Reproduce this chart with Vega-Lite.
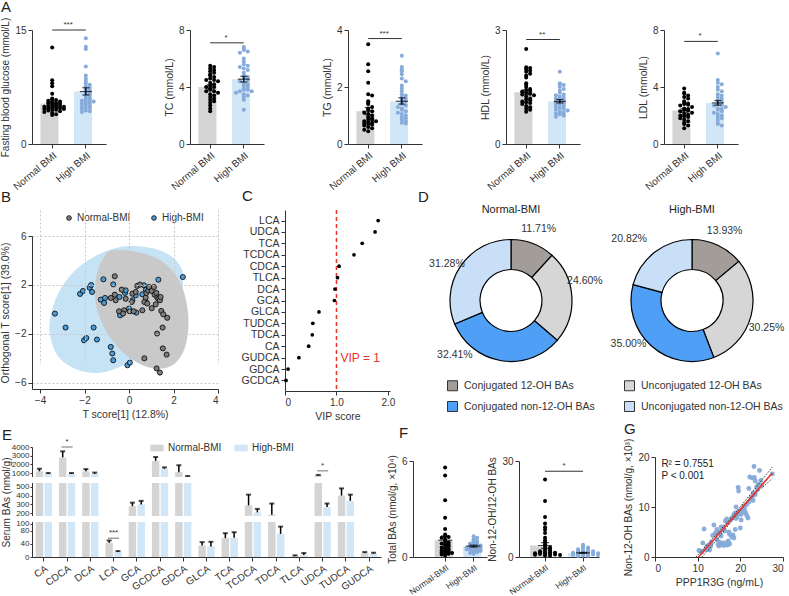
{
"$schema":"https://vega.github.io/schema/vega-lite/v6.json",
"background":"white",
"padding":{"left":0,"top":0,"right":2,"bottom":2},
"config":{"font":"Liberation Sans","view":{"stroke":null},
 "axis":{"domainColor":"#333","tickColor":"#333","labelColor":"#333","titleColor":"#333","labelFontSize":10,"titleFontSize":10.5,"titleFontWeight":"normal","grid":false,"tickSize":4,"labelOverlap":false,"labelFont":"Liberation Sans","titleFont":"Liberation Sans"},
 "title":{"font":"Liberation Sans","fontWeight":"normal","fontSize":11,"color":"#222"},
 "legend":{"labelFont":"Liberation Sans","labelColor":"#333"},
 "text":{"font":"Liberation Sans"}},
"datasets":{
"asum":[
{"p":"FBG","g":"Normal BMI","m":5.3,"lo":5.0,"hi":5.65},{"p":"FBG","g":"High BMI","m":6.9,"lo":6.45,"hi":7.4},
{"p":"TC","g":"Normal BMI","m":4.0,"lo":3.85,"hi":4.15},{"p":"TC","g":"High BMI","m":4.55,"lo":4.35,"hi":4.75},
{"p":"TG","g":"Normal BMI","m":1.15,"lo":1.03,"hi":1.28},{"p":"TG","g":"High BMI","m":1.5,"lo":1.4,"hi":1.62},
{"p":"HDL","g":"Normal BMI","m":1.36,"lo":1.3,"hi":1.42},{"p":"HDL","g":"High BMI","m":1.12,"lo":1.08,"hi":1.17},
{"p":"LDL","g":"Normal BMI","m":2.35,"lo":2.22,"hi":2.48},{"p":"LDL","g":"High BMI","m":2.88,"lo":2.72,"hi":3.05}],
"abr":[{"p":"FBG","y":15,"s":"***"},{"p":"TC","y":7.1,"s":"*"},{"p":"TG","y":3.7,"s":"***"},{"p":"HDL","y":2.75,"s":"**"},{"p":"LDL","y":7.2,"s":"*"}],
"apts":[
{"p":"FBG","g":"Normal BMI","v":12.7},{"p":"FBG","g":"Normal BMI","v":8.4},{"p":"FBG","g":"Normal BMI","v":8.0},{"p":"FBG","g":"Normal BMI","v":7.6},{"p":"FBG","g":"Normal BMI","v":6.6},{"p":"FBG","g":"Normal BMI","v":6.0},{"p":"FBG","g":"Normal BMI","v":5.9},{"p":"FBG","g":"Normal BMI","v":5.8},{"p":"FBG","g":"Normal BMI","v":5.7},{"p":"FBG","g":"Normal BMI","v":5.6},{"p":"FBG","g":"Normal BMI","v":5.5},{"p":"FBG","g":"Normal BMI","v":5.4},{"p":"FBG","g":"Normal BMI","v":5.4},{"p":"FBG","g":"Normal BMI","v":5.3},{"p":"FBG","g":"Normal BMI","v":5.2},{"p":"FBG","g":"Normal BMI","v":5.1},{"p":"FBG","g":"Normal BMI","v":5.0},{"p":"FBG","g":"Normal BMI","v":5.0},{"p":"FBG","g":"Normal BMI","v":4.9},{"p":"FBG","g":"Normal BMI","v":4.9},{"p":"FBG","g":"Normal BMI","v":4.8},{"p":"FBG","g":"Normal BMI","v":4.8},{"p":"FBG","g":"Normal BMI","v":4.7},{"p":"FBG","g":"Normal BMI","v":4.7},{"p":"FBG","g":"Normal BMI","v":4.6},{"p":"FBG","g":"Normal BMI","v":4.6},{"p":"FBG","g":"Normal BMI","v":4.5},{"p":"FBG","g":"Normal BMI","v":4.5},{"p":"FBG","g":"Normal BMI","v":4.4},{"p":"FBG","g":"Normal BMI","v":4.3},{"p":"FBG","g":"Normal BMI","v":4.2},{"p":"FBG","g":"Normal BMI","v":4.1},{"p":"FBG","g":"Normal BMI","v":3.9},{"p":"FBG","g":"Normal BMI","v":3.8},
{"p":"FBG","g":"High BMI","v":13.9},{"p":"FBG","g":"High BMI","v":12.8},{"p":"FBG","g":"High BMI","v":12.5},{"p":"FBG","g":"High BMI","v":10.2},{"p":"FBG","g":"High BMI","v":9.0},{"p":"FBG","g":"High BMI","v":8.6},{"p":"FBG","g":"High BMI","v":8.3},{"p":"FBG","g":"High BMI","v":8.0},{"p":"FBG","g":"High BMI","v":7.8},{"p":"FBG","g":"High BMI","v":7.6},{"p":"FBG","g":"High BMI","v":7.4},{"p":"FBG","g":"High BMI","v":7.2},{"p":"FBG","g":"High BMI","v":7.0},{"p":"FBG","g":"High BMI","v":6.9},{"p":"FBG","g":"High BMI","v":6.7},{"p":"FBG","g":"High BMI","v":6.5},{"p":"FBG","g":"High BMI","v":6.4},{"p":"FBG","g":"High BMI","v":6.2},{"p":"FBG","g":"High BMI","v":6.0},{"p":"FBG","g":"High BMI","v":5.9},{"p":"FBG","g":"High BMI","v":5.8},{"p":"FBG","g":"High BMI","v":5.7},{"p":"FBG","g":"High BMI","v":5.6},{"p":"FBG","g":"High BMI","v":5.5},{"p":"FBG","g":"High BMI","v":5.4},{"p":"FBG","g":"High BMI","v":5.3},{"p":"FBG","g":"High BMI","v":5.2},{"p":"FBG","g":"High BMI","v":5.0},{"p":"FBG","g":"High BMI","v":4.9},{"p":"FBG","g":"High BMI","v":4.8},{"p":"FBG","g":"High BMI","v":4.7},{"p":"FBG","g":"High BMI","v":4.6},{"p":"FBG","g":"High BMI","v":4.4},{"p":"FBG","g":"High BMI","v":4.3},{"p":"FBG","g":"High BMI","v":4.2},
{"p":"TC","g":"Normal BMI","v":5.5},{"p":"TC","g":"Normal BMI","v":5.4},{"p":"TC","g":"Normal BMI","v":5.3},{"p":"TC","g":"Normal BMI","v":5.2},{"p":"TC","g":"Normal BMI","v":5.1},{"p":"TC","g":"Normal BMI","v":5.0},{"p":"TC","g":"Normal BMI","v":4.9},{"p":"TC","g":"Normal BMI","v":4.8},{"p":"TC","g":"Normal BMI","v":4.7},{"p":"TC","g":"Normal BMI","v":4.6},{"p":"TC","g":"Normal BMI","v":4.5},{"p":"TC","g":"Normal BMI","v":4.5},{"p":"TC","g":"Normal BMI","v":4.4},{"p":"TC","g":"Normal BMI","v":4.3},{"p":"TC","g":"Normal BMI","v":4.2},{"p":"TC","g":"Normal BMI","v":4.1},{"p":"TC","g":"Normal BMI","v":4.0},{"p":"TC","g":"Normal BMI","v":4.0},{"p":"TC","g":"Normal BMI","v":3.9},{"p":"TC","g":"Normal BMI","v":3.8},{"p":"TC","g":"Normal BMI","v":3.7},{"p":"TC","g":"Normal BMI","v":3.7},{"p":"TC","g":"Normal BMI","v":3.6},{"p":"TC","g":"Normal BMI","v":3.5},{"p":"TC","g":"Normal BMI","v":3.4},{"p":"TC","g":"Normal BMI","v":3.3},{"p":"TC","g":"Normal BMI","v":3.2},{"p":"TC","g":"Normal BMI","v":3.1},{"p":"TC","g":"Normal BMI","v":3.0},{"p":"TC","g":"Normal BMI","v":2.9},{"p":"TC","g":"Normal BMI","v":2.7},{"p":"TC","g":"Normal BMI","v":2.5},{"p":"TC","g":"Normal BMI","v":2.3},
{"p":"TC","g":"High BMI","v":6.8},{"p":"TC","g":"High BMI","v":6.7},{"p":"TC","g":"High BMI","v":6.6},{"p":"TC","g":"High BMI","v":6.5},{"p":"TC","g":"High BMI","v":6.4},{"p":"TC","g":"High BMI","v":6.0},{"p":"TC","g":"High BMI","v":5.8},{"p":"TC","g":"High BMI","v":5.6},{"p":"TC","g":"High BMI","v":5.5},{"p":"TC","g":"High BMI","v":5.4},{"p":"TC","g":"High BMI","v":5.3},{"p":"TC","g":"High BMI","v":5.2},{"p":"TC","g":"High BMI","v":5.0},{"p":"TC","g":"High BMI","v":4.8},{"p":"TC","g":"High BMI","v":4.7},{"p":"TC","g":"High BMI","v":4.6},{"p":"TC","g":"High BMI","v":4.5},{"p":"TC","g":"High BMI","v":4.4},{"p":"TC","g":"High BMI","v":4.3},{"p":"TC","g":"High BMI","v":4.2},{"p":"TC","g":"High BMI","v":4.1},{"p":"TC","g":"High BMI","v":4.0},{"p":"TC","g":"High BMI","v":3.9},{"p":"TC","g":"High BMI","v":3.8},{"p":"TC","g":"High BMI","v":3.8},{"p":"TC","g":"High BMI","v":3.7},{"p":"TC","g":"High BMI","v":3.7},{"p":"TC","g":"High BMI","v":3.6},{"p":"TC","g":"High BMI","v":3.5},{"p":"TC","g":"High BMI","v":3.4},{"p":"TC","g":"High BMI","v":3.3},{"p":"TC","g":"High BMI","v":3.1},{"p":"TC","g":"High BMI","v":2.4},
{"p":"TG","g":"Normal BMI","v":3.5},{"p":"TG","g":"Normal BMI","v":2.8},{"p":"TG","g":"Normal BMI","v":2.55},{"p":"TG","g":"Normal BMI","v":2.15},{"p":"TG","g":"Normal BMI","v":1.75},{"p":"TG","g":"Normal BMI","v":1.7},{"p":"TG","g":"Normal BMI","v":1.5},{"p":"TG","g":"Normal BMI","v":1.45},{"p":"TG","g":"Normal BMI","v":1.4},{"p":"TG","g":"Normal BMI","v":1.3},{"p":"TG","g":"Normal BMI","v":1.25},{"p":"TG","g":"Normal BMI","v":1.2},{"p":"TG","g":"Normal BMI","v":1.15},{"p":"TG","g":"Normal BMI","v":1.1},{"p":"TG","g":"Normal BMI","v":1.05},{"p":"TG","g":"Normal BMI","v":1.0},{"p":"TG","g":"Normal BMI","v":0.95},{"p":"TG","g":"Normal BMI","v":0.9},{"p":"TG","g":"Normal BMI","v":0.88},{"p":"TG","g":"Normal BMI","v":0.85},{"p":"TG","g":"Normal BMI","v":0.8},{"p":"TG","g":"Normal BMI","v":0.8},{"p":"TG","g":"Normal BMI","v":0.78},{"p":"TG","g":"Normal BMI","v":0.75},{"p":"TG","g":"Normal BMI","v":0.72},{"p":"TG","g":"Normal BMI","v":0.7},{"p":"TG","g":"Normal BMI","v":0.68},{"p":"TG","g":"Normal BMI","v":0.65},{"p":"TG","g":"Normal BMI","v":0.6},{"p":"TG","g":"Normal BMI","v":0.55},{"p":"TG","g":"Normal BMI","v":0.5},{"p":"TG","g":"Normal BMI","v":0.45},
{"p":"TG","g":"High BMI","v":3.1},{"p":"TG","g":"High BMI","v":2.7},{"p":"TG","g":"High BMI","v":2.62},{"p":"TG","g":"High BMI","v":2.55},{"p":"TG","g":"High BMI","v":2.45},{"p":"TG","g":"High BMI","v":2.3},{"p":"TG","g":"High BMI","v":2.2},{"p":"TG","g":"High BMI","v":2.05},{"p":"TG","g":"High BMI","v":1.95},{"p":"TG","g":"High BMI","v":1.85},{"p":"TG","g":"High BMI","v":1.75},{"p":"TG","g":"High BMI","v":1.7},{"p":"TG","g":"High BMI","v":1.65},{"p":"TG","g":"High BMI","v":1.6},{"p":"TG","g":"High BMI","v":1.55},{"p":"TG","g":"High BMI","v":1.5},{"p":"TG","g":"High BMI","v":1.45},{"p":"TG","g":"High BMI","v":1.4},{"p":"TG","g":"High BMI","v":1.35},{"p":"TG","g":"High BMI","v":1.3},{"p":"TG","g":"High BMI","v":1.25},{"p":"TG","g":"High BMI","v":1.2},{"p":"TG","g":"High BMI","v":1.15},{"p":"TG","g":"High BMI","v":1.1},{"p":"TG","g":"High BMI","v":1.05},{"p":"TG","g":"High BMI","v":1.0},{"p":"TG","g":"High BMI","v":0.95},{"p":"TG","g":"High BMI","v":0.9},{"p":"TG","g":"High BMI","v":0.85},{"p":"TG","g":"High BMI","v":0.8},{"p":"TG","g":"High BMI","v":0.75},{"p":"TG","g":"High BMI","v":0.72},
{"p":"HDL","g":"Normal BMI","v":2.5},{"p":"HDL","g":"Normal BMI","v":2.02},{"p":"HDL","g":"Normal BMI","v":2.0},{"p":"HDL","g":"Normal BMI","v":1.97},{"p":"HDL","g":"Normal BMI","v":1.93},{"p":"HDL","g":"Normal BMI","v":1.9},{"p":"HDL","g":"Normal BMI","v":1.85},{"p":"HDL","g":"Normal BMI","v":1.8},{"p":"HDL","g":"Normal BMI","v":1.75},{"p":"HDL","g":"Normal BMI","v":1.6},{"p":"HDL","g":"Normal BMI","v":1.55},{"p":"HDL","g":"Normal BMI","v":1.5},{"p":"HDL","g":"Normal BMI","v":1.45},{"p":"HDL","g":"Normal BMI","v":1.42},{"p":"HDL","g":"Normal BMI","v":1.4},{"p":"HDL","g":"Normal BMI","v":1.38},{"p":"HDL","g":"Normal BMI","v":1.35},{"p":"HDL","g":"Normal BMI","v":1.32},{"p":"HDL","g":"Normal BMI","v":1.3},{"p":"HDL","g":"Normal BMI","v":1.28},{"p":"HDL","g":"Normal BMI","v":1.25},{"p":"HDL","g":"Normal BMI","v":1.2},{"p":"HDL","g":"Normal BMI","v":1.18},{"p":"HDL","g":"Normal BMI","v":1.15},{"p":"HDL","g":"Normal BMI","v":1.12},{"p":"HDL","g":"Normal BMI","v":1.1},{"p":"HDL","g":"Normal BMI","v":1.08},{"p":"HDL","g":"Normal BMI","v":1.05},{"p":"HDL","g":"Normal BMI","v":1.0},{"p":"HDL","g":"Normal BMI","v":0.97},{"p":"HDL","g":"Normal BMI","v":0.93},{"p":"HDL","g":"Normal BMI","v":0.9},{"p":"HDL","g":"Normal BMI","v":0.85},
{"p":"HDL","g":"High BMI","v":1.9},{"p":"HDL","g":"High BMI","v":1.6},{"p":"HDL","g":"High BMI","v":1.57},{"p":"HDL","g":"High BMI","v":1.55},{"p":"HDL","g":"High BMI","v":1.5},{"p":"HDL","g":"High BMI","v":1.45},{"p":"HDL","g":"High BMI","v":1.4},{"p":"HDL","g":"High BMI","v":1.35},{"p":"HDL","g":"High BMI","v":1.3},{"p":"HDL","g":"High BMI","v":1.28},{"p":"HDL","g":"High BMI","v":1.25},{"p":"HDL","g":"High BMI","v":1.22},{"p":"HDL","g":"High BMI","v":1.2},{"p":"HDL","g":"High BMI","v":1.18},{"p":"HDL","g":"High BMI","v":1.15},{"p":"HDL","g":"High BMI","v":1.12},{"p":"HDL","g":"High BMI","v":1.1},{"p":"HDL","g":"High BMI","v":1.08},{"p":"HDL","g":"High BMI","v":1.05},{"p":"HDL","g":"High BMI","v":1.03},{"p":"HDL","g":"High BMI","v":1.0},{"p":"HDL","g":"High BMI","v":0.98},{"p":"HDL","g":"High BMI","v":0.95},{"p":"HDL","g":"High BMI","v":0.93},{"p":"HDL","g":"High BMI","v":0.9},{"p":"HDL","g":"High BMI","v":0.88},{"p":"HDL","g":"High BMI","v":0.85},{"p":"HDL","g":"High BMI","v":0.82},{"p":"HDL","g":"High BMI","v":0.8},{"p":"HDL","g":"High BMI","v":0.78},{"p":"HDL","g":"High BMI","v":0.75},{"p":"HDL","g":"High BMI","v":0.72},
{"p":"LDL","g":"Normal BMI","v":3.9},{"p":"LDL","g":"Normal BMI","v":3.6},{"p":"LDL","g":"Normal BMI","v":3.55},{"p":"LDL","g":"Normal BMI","v":3.4},{"p":"LDL","g":"Normal BMI","v":3.3},{"p":"LDL","g":"Normal BMI","v":3.2},{"p":"LDL","g":"Normal BMI","v":3.0},{"p":"LDL","g":"Normal BMI","v":2.9},{"p":"LDL","g":"Normal BMI","v":2.85},{"p":"LDL","g":"Normal BMI","v":2.8},{"p":"LDL","g":"Normal BMI","v":2.75},{"p":"LDL","g":"Normal BMI","v":2.7},{"p":"LDL","g":"Normal BMI","v":2.6},{"p":"LDL","g":"Normal BMI","v":2.5},{"p":"LDL","g":"Normal BMI","v":2.45},{"p":"LDL","g":"Normal BMI","v":2.4},{"p":"LDL","g":"Normal BMI","v":2.35},{"p":"LDL","g":"Normal BMI","v":2.3},{"p":"LDL","g":"Normal BMI","v":2.2},{"p":"LDL","g":"Normal BMI","v":2.1},{"p":"LDL","g":"Normal BMI","v":2.05},{"p":"LDL","g":"Normal BMI","v":2.0},{"p":"LDL","g":"Normal BMI","v":1.95},{"p":"LDL","g":"Normal BMI","v":1.9},{"p":"LDL","g":"Normal BMI","v":1.8},{"p":"LDL","g":"Normal BMI","v":1.7},{"p":"LDL","g":"Normal BMI","v":1.6},{"p":"LDL","g":"Normal BMI","v":1.5},{"p":"LDL","g":"Normal BMI","v":1.4},{"p":"LDL","g":"Normal BMI","v":1.3},{"p":"LDL","g":"Normal BMI","v":1.1},
{"p":"LDL","g":"High BMI","v":6.35},{"p":"LDL","g":"High BMI","v":4.5},{"p":"LDL","g":"High BMI","v":4.3},{"p":"LDL","g":"High BMI","v":4.2},{"p":"LDL","g":"High BMI","v":4.0},{"p":"LDL","g":"High BMI","v":3.8},{"p":"LDL","g":"High BMI","v":3.7},{"p":"LDL","g":"High BMI","v":3.5},{"p":"LDL","g":"High BMI","v":3.4},{"p":"LDL","g":"High BMI","v":3.3},{"p":"LDL","g":"High BMI","v":3.2},{"p":"LDL","g":"High BMI","v":3.1},{"p":"LDL","g":"High BMI","v":3.0},{"p":"LDL","g":"High BMI","v":2.9},{"p":"LDL","g":"High BMI","v":2.8},{"p":"LDL","g":"High BMI","v":2.75},{"p":"LDL","g":"High BMI","v":2.7},{"p":"LDL","g":"High BMI","v":2.6},{"p":"LDL","g":"High BMI","v":2.5},{"p":"LDL","g":"High BMI","v":2.45},{"p":"LDL","g":"High BMI","v":2.4},{"p":"LDL","g":"High BMI","v":2.3},{"p":"LDL","g":"High BMI","v":2.2},{"p":"LDL","g":"High BMI","v":2.1},{"p":"LDL","g":"High BMI","v":2.0},{"p":"LDL","g":"High BMI","v":1.9},{"p":"LDL","g":"High BMI","v":1.8},{"p":"LDL","g":"High BMI","v":1.7},{"p":"LDL","g":"High BMI","v":1.5},{"p":"LDL","g":"High BMI","v":1.4},{"p":"LDL","g":"High BMI","v":1.3}],
"ell":[
{"g":"High-BMI","i":1,"x":0.15,"y":5.18},{"g":"High-BMI","i":2,"x":1.2,"y":4.94},{"g":"High-BMI","i":3,"x":1.95,"y":4.29},{"g":"High-BMI","i":4,"x":2.37,"y":3.33},{"g":"High-BMI","i":5,"x":2.43,"y":2.38},{"g":"High-BMI","i":6,"x":2.32,"y":1.02},{"g":"High-BMI","i":7,"x":1.95,"y":-0.61},{"g":"High-BMI","i":8,"x":1.2,"y":-2.52},{"g":"High-BMI","i":9,"x":0.15,"y":-4.15},{"g":"High-BMI","i":10,"x":-0.9,"y":-5.02},{"g":"High-BMI","i":11,"x":-1.8,"y":-5.16},{"g":"High-BMI","i":12,"x":-2.62,"y":-4.69},{"g":"High-BMI","i":13,"x":-3.22,"y":-3.74},{"g":"High-BMI","i":14,"x":-3.52,"y":-2.38},{"g":"High-BMI","i":15,"x":-3.57,"y":-1.16},{"g":"High-BMI","i":16,"x":-3.37,"y":0.48},{"g":"High-BMI","i":17,"x":-2.92,"y":2.11},{"g":"High-BMI","i":18,"x":-2.25,"y":3.47},{"g":"High-BMI","i":19,"x":-1.35,"y":4.5},{"g":"High-BMI","i":20,"x":-0.6,"y":5.02},
{"g":"Normal-BMI","i":1,"x":0.15,"y":4.75},{"g":"Normal-BMI","i":2,"x":1.05,"y":4.34},{"g":"Normal-BMI","i":3,"x":1.8,"y":3.47},{"g":"Normal-BMI","i":4,"x":2.32,"y":2.11},{"g":"Normal-BMI","i":5,"x":2.59,"y":0.48},{"g":"Normal-BMI","i":6,"x":2.67,"y":-1.43},{"g":"Normal-BMI","i":7,"x":2.47,"y":-3.33},{"g":"Normal-BMI","i":8,"x":1.95,"y":-4.56},{"g":"Normal-BMI","i":9,"x":1.2,"y":-4.83},{"g":"Normal-BMI","i":10,"x":0.45,"y":-4.42},{"g":"Normal-BMI","i":11,"x":-0.3,"y":-3.47},{"g":"Normal-BMI","i":12,"x":-0.97,"y":-1.97},{"g":"Normal-BMI","i":13,"x":-1.38,"y":-0.34},{"g":"Normal-BMI","i":14,"x":-1.53,"y":1.29},{"g":"Normal-BMI","i":15,"x":-1.42,"y":3.06},{"g":"Normal-BMI","i":16,"x":-1.12,"y":4.29},{"g":"Normal-BMI","i":17,"x":-0.75,"y":4.83}],
"bpts":[
{"g":"High-BMI","x":-3.33,"y":-0.34},{"g":"High-BMI","x":-2.85,"y":-1.48},{"g":"High-BMI","x":-2.2,"y":1.27},{"g":"High-BMI","x":-2.07,"y":1.51},{"g":"High-BMI","x":-1.77,"y":1.78},{"g":"High-BMI","x":-1.7,"y":2.0},{"g":"High-BMI","x":-1.66,"y":1.43},{"g":"High-BMI","x":-2.02,"y":-2.52},{"g":"High-BMI","x":-1.92,"y":-2.33},{"g":"High-BMI","x":-1.59,"y":-1.48},{"g":"High-BMI","x":-1.44,"y":-2.46},{"g":"High-BMI","x":-1.27,"y":0.8},{"g":"High-BMI","x":-1.15,"y":2.46},{"g":"High-BMI","x":-1.12,"y":0.53},{"g":"High-BMI","x":-1.08,"y":0.94},{"g":"High-BMI","x":-0.82,"y":-3.06},{"g":"High-BMI","x":-0.75,"y":-3.6},{"g":"High-BMI","x":-0.71,"y":-4.15},{"g":"High-BMI","x":-0.71,"y":2.05},{"g":"High-BMI","x":-0.4,"y":-0.48},{"g":"High-BMI","x":-0.18,"y":1.35},{"g":"High-BMI","x":-0.07,"y":-4.56},{"g":"High-BMI","x":0.04,"y":-4.34},{"g":"High-BMI","x":0.0,"y":0.07},{"g":"High-BMI","x":0.15,"y":0.75},{"g":"High-BMI","x":0.3,"y":1.16},{"g":"High-BMI","x":0.33,"y":-0.26},{"g":"High-BMI","x":0.6,"y":1.24},{"g":"High-BMI","x":0.67,"y":1.97},{"g":"High-BMI","x":0.75,"y":0.66},{"g":"High-BMI","x":0.76,"y":1.61},{"g":"High-BMI","x":1.32,"y":2.43},{"g":"High-BMI","x":2.42,"y":2.65},{"g":"High-BMI","x":-0.15,"y":1.56},{"g":"High-BMI","x":-0.43,"y":1.02},
{"g":"Normal-BMI","x":-0.64,"y":2.71},{"g":"Normal-BMI","x":-0.64,"y":1.21},{"g":"Normal-BMI","x":-0.6,"y":0.75},{"g":"Normal-BMI","x":-0.82,"y":0.94},{"g":"Normal-BMI","x":-0.33,"y":1.62},{"g":"Normal-BMI","x":-0.15,"y":0.87},{"g":"Normal-BMI","x":-0.22,"y":-0.07},{"g":"Normal-BMI","x":-0.27,"y":-0.34},{"g":"Normal-BMI","x":0.03,"y":-0.15},{"g":"Normal-BMI","x":0.12,"y":0.61},{"g":"Normal-BMI","x":0.15,"y":1.29},{"g":"Normal-BMI","x":0.3,"y":1.43},{"g":"Normal-BMI","x":0.37,"y":1.92},{"g":"Normal-BMI","x":0.49,"y":2.03},{"g":"Normal-BMI","x":0.6,"y":-0.07},{"g":"Normal-BMI","x":0.69,"y":0.61},{"g":"Normal-BMI","x":0.75,"y":0.97},{"g":"Normal-BMI","x":0.78,"y":1.35},{"g":"Normal-BMI","x":0.87,"y":1.56},{"g":"Normal-BMI","x":0.9,"y":1.83},{"g":"Normal-BMI","x":1.02,"y":1.51},{"g":"Normal-BMI","x":1.15,"y":1.21},{"g":"Normal-BMI","x":1.2,"y":0.42},{"g":"Normal-BMI","x":1.23,"y":1.35},{"g":"Normal-BMI","x":1.27,"y":0.97},{"g":"Normal-BMI","x":1.32,"y":0.86},{"g":"Normal-BMI","x":1.39,"y":0.75},{"g":"Normal-BMI","x":1.45,"y":-0.12},{"g":"Normal-BMI","x":1.54,"y":-0.4},{"g":"Normal-BMI","x":1.26,"y":-1.97},{"g":"Normal-BMI","x":1.51,"y":-1.48},{"g":"Normal-BMI","x":1.52,"y":-3.18},{"g":"Normal-BMI","x":1.69,"y":-3.69},{"g":"Normal-BMI","x":1.24,"y":-4.82},{"g":"Normal-BMI","x":1.39,"y":-5.16},{"g":"Normal-BMI","x":0.69,"y":-3.99},{"g":"Normal-BMI","x":1.02,"y":0.1},{"g":"Normal-BMI","x":0.82,"y":0.48},{"g":"Normal-BMI","x":-0.45,"y":-0.15},{"g":"Normal-BMI","x":0.21,"y":-0.15},{"g":"Normal-BMI","x":1.12,"y":1.83},{"g":"Normal-BMI","x":1.72,"y":-0.68},{"g":"Normal-BMI","x":1.42,"y":1.02}],
"vip":[{"ba":"LCA","vip":1.81},{"ba":"UDCA","vip":1.75},{"ba":"TCA","vip":1.5},{"ba":"TCDCA","vip":1.34},{"ba":"CDCA","vip":1.05},{"ba":"TLCA","vip":1.02},{"ba":"DCA","vip":0.97},{"ba":"GCA","vip":0.96},{"ba":"GLCA","vip":0.66},{"ba":"TUDCA","vip":0.54},{"ba":"TDCA","vip":0.53},{"ba":"CA","vip":0.46},{"ba":"GUDCA","vip":0.27},{"ba":"GDCA","vip":0.06},{"ba":"GCDCA","vip":0.02}],
"dn":[
{"grp":"Normal-BMI","cat":"Conjugated 12-OH BAs","k":1,"pct":11.71,"lab":"11.71%"},{"grp":"Normal-BMI","cat":"Unconjugated 12-OH BAs","k":2,"pct":24.6,"lab":"24.60%"},{"grp":"Normal-BMI","cat":"Conjugated non-12-OH BAs","k":3,"pct":32.41,"lab":"32.41%"},{"grp":"Normal-BMI","cat":"Unconjugated non-12-OH BAs","k":4,"pct":31.28,"lab":"31.28%"},
{"grp":"High-BMI","cat":"Conjugated 12-OH BAs","k":1,"pct":13.93,"lab":"13.93%"},{"grp":"High-BMI","cat":"Unconjugated 12-OH BAs","k":2,"pct":30.25,"lab":"30.25%"},{"grp":"High-BMI","cat":"Conjugated non-12-OH BAs","k":3,"pct":35.0,"lab":"35.00%"},{"grp":"High-BMI","cat":"Unconjugated non-12-OH BAs","k":4,"pct":20.82,"lab":"20.82%"}],
"e":[
{"ba":"CA","g":"Normal-BMI","m":1200,"hi":1500},{"ba":"CA","g":"High-BMI","m":900,"hi":1000},
{"ba":"CDCA","g":"Normal-BMI","m":2800,"hi":3500},{"ba":"CDCA","g":"High-BMI","m":900,"hi":1000},
{"ba":"DCA","g":"Normal-BMI","m":1200,"hi":1450},{"ba":"DCA","g":"High-BMI","m":900,"hi":1050},
{"ba":"LCA","g":"Normal-BMI","m":43,"hi":50},{"ba":"LCA","g":"High-BMI","m":15,"hi":18},
{"ba":"GCA","g":"Normal-BMI","m":280,"hi":320},{"ba":"GCA","g":"High-BMI","m":300,"hi":340},
{"ba":"GCDCA","g":"Normal-BMI","m":2400,"hi":2850},{"ba":"GCDCA","g":"High-BMI","m":1500,"hi":1650},
{"ba":"GDCA","g":"Normal-BMI","m":1100,"hi":1900},{"ba":"GDCA","g":"High-BMI","m":600,"hi":660},
{"ba":"GLCA","g":"Normal-BMI","m":35,"hi":45},{"ba":"GLCA","g":"High-BMI","m":32,"hi":46},
{"ba":"TCA","g":"Normal-BMI","m":57,"hi":72},{"ba":"TCA","g":"High-BMI","m":58,"hi":75},
{"ba":"TCDCA","g":"Normal-BMI","m":290,"hi":410},{"ba":"TCDCA","g":"High-BMI","m":210,"hi":250},
{"ba":"TDCA","g":"Normal-BMI","m":185,"hi":310},{"ba":"TDCA","g":"High-BMI","m":70,"hi":92},
{"ba":"TLCA","g":"Normal-BMI","m":3,"hi":5},{"ba":"TLCA","g":"High-BMI","m":6,"hi":12},
{"ba":"UDCA","g":"Normal-BMI","m":690,"hi":780},{"ba":"UDCA","g":"High-BMI","m":270,"hi":310},
{"ba":"TUDCA","g":"Normal-BMI","m":400,"hi":480},{"ba":"TUDCA","g":"High-BMI","m":340,"hi":410},
{"ba":"GUDCA","g":"Normal-BMI","m":12,"hi":15},{"ba":"GUDCA","g":"High-BMI","m":10,"hi":13}],
"ebr":[{"ba":"CDCA","y":4000,"s":"*"},{"ba":"UDCA","y":1250,"s":"*"},{"ba":"LCA","y":57,"s":"***"}],
"fsum":[{"p":"F1","g":"Normal-BMI","m":1.05,"lo":0.8,"hi":1.32},{"p":"F1","g":"High-BMI","m":0.68,"lo":0.62,"hi":0.74},{"p":"F2","g":"Normal-BMI","m":3.6,"lo":2.7,"hi":4.5},{"p":"F2","g":"High-BMI","m":1.3,"lo":1.15,"hi":1.45}],
"fbr":[{"p":"F2","y":26.8,"s":"*"}],
"fpts":[
{"p":"F1","g":"Normal-BMI","v":5.6},{"p":"F1","g":"Normal-BMI","v":5.1},{"p":"F1","g":"Normal-BMI","v":3.55},{"p":"F1","g":"Normal-BMI","v":2.45},{"p":"F1","g":"Normal-BMI","v":1.75},{"p":"F1","g":"Normal-BMI","v":1.4},{"p":"F1","g":"Normal-BMI","v":1.3},{"p":"F1","g":"Normal-BMI","v":1.25},{"p":"F1","g":"Normal-BMI","v":1.2},{"p":"F1","g":"Normal-BMI","v":1.1},{"p":"F1","g":"Normal-BMI","v":1.0},{"p":"F1","g":"Normal-BMI","v":0.95},{"p":"F1","g":"Normal-BMI","v":0.9},{"p":"F1","g":"Normal-BMI","v":0.85},{"p":"F1","g":"Normal-BMI","v":0.8},{"p":"F1","g":"Normal-BMI","v":0.75},{"p":"F1","g":"Normal-BMI","v":0.7},{"p":"F1","g":"Normal-BMI","v":0.65},{"p":"F1","g":"Normal-BMI","v":0.6},{"p":"F1","g":"Normal-BMI","v":0.55},{"p":"F1","g":"Normal-BMI","v":0.5},{"p":"F1","g":"Normal-BMI","v":0.45},{"p":"F1","g":"Normal-BMI","v":0.4},{"p":"F1","g":"Normal-BMI","v":0.4},{"p":"F1","g":"Normal-BMI","v":0.35},{"p":"F1","g":"Normal-BMI","v":0.3},{"p":"F1","g":"Normal-BMI","v":0.3},{"p":"F1","g":"Normal-BMI","v":0.25},{"p":"F1","g":"Normal-BMI","v":0.2},{"p":"F1","g":"Normal-BMI","v":0.2},{"p":"F1","g":"Normal-BMI","v":0.15},{"p":"F1","g":"Normal-BMI","v":0.1},
{"p":"F1","g":"High-BMI","v":1.3},{"p":"F1","g":"High-BMI","v":1.2},{"p":"F1","g":"High-BMI","v":1.1},{"p":"F1","g":"High-BMI","v":1.05},{"p":"F1","g":"High-BMI","v":1.0},{"p":"F1","g":"High-BMI","v":0.95},{"p":"F1","g":"High-BMI","v":0.9},{"p":"F1","g":"High-BMI","v":0.85},{"p":"F1","g":"High-BMI","v":0.8},{"p":"F1","g":"High-BMI","v":0.78},{"p":"F1","g":"High-BMI","v":0.75},{"p":"F1","g":"High-BMI","v":0.72},{"p":"F1","g":"High-BMI","v":0.7},{"p":"F1","g":"High-BMI","v":0.68},{"p":"F1","g":"High-BMI","v":0.65},{"p":"F1","g":"High-BMI","v":0.62},{"p":"F1","g":"High-BMI","v":0.6},{"p":"F1","g":"High-BMI","v":0.58},{"p":"F1","g":"High-BMI","v":0.55},{"p":"F1","g":"High-BMI","v":0.52},{"p":"F1","g":"High-BMI","v":0.5},{"p":"F1","g":"High-BMI","v":0.48},{"p":"F1","g":"High-BMI","v":0.45},{"p":"F1","g":"High-BMI","v":0.42},{"p":"F1","g":"High-BMI","v":0.4},{"p":"F1","g":"High-BMI","v":0.38},{"p":"F1","g":"High-BMI","v":0.35},{"p":"F1","g":"High-BMI","v":0.3},{"p":"F1","g":"High-BMI","v":0.25},{"p":"F1","g":"High-BMI","v":0.2},
{"p":"F2","g":"Normal-BMI","v":24.2},{"p":"F2","g":"Normal-BMI","v":17.5},{"p":"F2","g":"Normal-BMI","v":12.5},{"p":"F2","g":"Normal-BMI","v":10.5},{"p":"F2","g":"Normal-BMI","v":9.3},{"p":"F2","g":"Normal-BMI","v":8.5},{"p":"F2","g":"Normal-BMI","v":7.5},{"p":"F2","g":"Normal-BMI","v":6.0},{"p":"F2","g":"Normal-BMI","v":5.2},{"p":"F2","g":"Normal-BMI","v":4.6},{"p":"F2","g":"Normal-BMI","v":4.0},{"p":"F2","g":"Normal-BMI","v":3.5},{"p":"F2","g":"Normal-BMI","v":3.0},{"p":"F2","g":"Normal-BMI","v":2.8},{"p":"F2","g":"Normal-BMI","v":2.5},{"p":"F2","g":"Normal-BMI","v":2.2},{"p":"F2","g":"Normal-BMI","v":2.0},{"p":"F2","g":"Normal-BMI","v":1.8},{"p":"F2","g":"Normal-BMI","v":1.6},{"p":"F2","g":"Normal-BMI","v":1.5},{"p":"F2","g":"Normal-BMI","v":1.4},{"p":"F2","g":"Normal-BMI","v":1.3},{"p":"F2","g":"Normal-BMI","v":1.2},{"p":"F2","g":"Normal-BMI","v":1.1},{"p":"F2","g":"Normal-BMI","v":1.0},{"p":"F2","g":"Normal-BMI","v":0.9},{"p":"F2","g":"Normal-BMI","v":0.8},{"p":"F2","g":"Normal-BMI","v":0.7},{"p":"F2","g":"Normal-BMI","v":0.6},{"p":"F2","g":"Normal-BMI","v":0.5},{"p":"F2","g":"Normal-BMI","v":0.4},
{"p":"F2","g":"High-BMI","v":3.8},{"p":"F2","g":"High-BMI","v":3.3},{"p":"F2","g":"High-BMI","v":3.0},{"p":"F2","g":"High-BMI","v":2.8},{"p":"F2","g":"High-BMI","v":2.6},{"p":"F2","g":"High-BMI","v":2.4},{"p":"F2","g":"High-BMI","v":2.2},{"p":"F2","g":"High-BMI","v":2.0},{"p":"F2","g":"High-BMI","v":1.9},{"p":"F2","g":"High-BMI","v":1.8},{"p":"F2","g":"High-BMI","v":1.7},{"p":"F2","g":"High-BMI","v":1.6},{"p":"F2","g":"High-BMI","v":1.5},{"p":"F2","g":"High-BMI","v":1.4},{"p":"F2","g":"High-BMI","v":1.3},{"p":"F2","g":"High-BMI","v":1.2},{"p":"F2","g":"High-BMI","v":1.1},{"p":"F2","g":"High-BMI","v":1.0},{"p":"F2","g":"High-BMI","v":0.9},{"p":"F2","g":"High-BMI","v":0.8},{"p":"F2","g":"High-BMI","v":0.7},{"p":"F2","g":"High-BMI","v":0.6},{"p":"F2","g":"High-BMI","v":0.5},{"p":"F2","g":"High-BMI","v":0.4},{"p":"F2","g":"High-BMI","v":0.3}],
"gpts":[{"x":10.3,"y":1.3},{"x":10.6,"y":1.2},{"x":11,"y":1.0},{"x":11.2,"y":2.8},{"x":11.5,"y":5.6},{"x":11.8,"y":1.5},{"x":12,"y":1.8},{"x":12.2,"y":2.2},{"x":12.5,"y":2.0},{"x":12.8,"y":1.4},{"x":13,"y":2.5},{"x":13.2,"y":3.0},{"x":13.5,"y":4.3},{"x":13.8,"y":6.4},{"x":14,"y":4.5},{"x":14.2,"y":4.8},{"x":14.5,"y":3.5},{"x":14.8,"y":2.5},{"x":15,"y":2.2},{"x":15,"y":3.0},{"x":15.2,"y":5.0},{"x":15.5,"y":4.2},{"x":15.8,"y":2.8},{"x":16,"y":2.3},{"x":16.2,"y":2.6},{"x":16.5,"y":2.4},{"x":16.8,"y":2.9},{"x":17,"y":2.4},{"x":17.2,"y":3.2},{"x":17.5,"y":2.6},{"x":16,"y":6.0},{"x":16.3,"y":5.2},{"x":16.5,"y":7.2},{"x":16.8,"y":7.6},{"x":17,"y":6.8},{"x":17.3,"y":5.0},{"x":17.5,"y":4.5},{"x":17.8,"y":7.5},{"x":18,"y":7.8},{"x":18,"y":4.0},{"x":18.3,"y":4.4},{"x":18.5,"y":3.8},{"x":18.8,"y":8.8},{"x":18.8,"y":5.5},{"x":19,"y":7.7},{"x":19.2,"y":8.0},{"x":19.5,"y":9.0},{"x":19.8,"y":8.8},{"x":19.5,"y":13.9},{"x":19.6,"y":13.2},{"x":20,"y":9.2},{"x":20,"y":5.8},{"x":20.2,"y":8.5},{"x":20.5,"y":9.3},{"x":20.8,"y":10.2},{"x":21,"y":9.8},{"x":21.2,"y":8.9},{"x":21.5,"y":8.3},{"x":21.8,"y":7.8},{"x":21.5,"y":10.5},{"x":22,"y":11.0},{"x":22,"y":13.7},{"x":22.2,"y":16.0},{"x":22.5,"y":11.8},{"x":22.8,"y":12.0},{"x":23,"y":12.8},{"x":23,"y":11.3},{"x":23.2,"y":18.1},{"x":23.3,"y":15.9},{"x":23.5,"y":15.2},{"x":23.8,"y":14.0},{"x":24,"y":13.5},{"x":24.2,"y":14.5},{"x":24.5,"y":17.3},{"x":24.8,"y":15.3},{"x":25,"y":14.3},{"x":27.5,"y":16.6},{"x":20.2,"y":7.4},{"x":19,"y":10.0},{"x":18.5,"y":8.5},{"x":13,"y":2.1},{"x":12.5,"y":1.5},{"x":14.5,"y":5.5},{"x":15.5,"y":6.0},{"x":21,"y":9.0},{"x":23.5,"y":12.5},{"x":22.8,"y":15.8}],
"gl":[{"s":"fit","x":10.2,"y":0},{"s":"fit","x":27.5,"y":16.8},{"s":"up","x":9.6,"y":0},{"s":"up","x":14,"y":4.15},{"s":"up","x":18,"y":8.0},{"s":"up","x":22,"y":12.15},{"s":"up","x":27.5,"y":18.0},{"s":"lo","x":11.0,"y":0},{"s":"lo","x":14,"y":2.95},{"s":"lo","x":18,"y":7.2},{"s":"lo","x":22,"y":11.25},{"s":"lo","x":27.5,"y":15.7}],
"gt":[{"x":1.5,"y":18.6,"t":"R² = 0.7551"},{"x":1.5,"y":16.2,"t":"P < 0.001"}]
},
"vconcat":[
{"hconcat":[
 {"width":74,"height":114,"title":{"text":"A","anchor":"start","frame":"group","dx":-31,"offset":2,"fontSize":15},
  "layer":[
   {"data":{"name":"asum"},"transform":[{"filter":"datum.p=='FBG'"}],"mark":"bar","encoding":{"x":{"field":"g","type":"nominal","sort":["Normal BMI","High BMI"],"scale":{"paddingInner":0.3,"paddingOuter":0.25},"axis":{"title":null,"labelAngle":-40}},"y":{"field":"m","type":"quantitative","scale":{"domain":[0,15],"nice":false},"axis":{"title":"Fasting blood glucose (mmol/L)","titleFontSize":10,"values":[0,5,10,15]}},"fill":{"field":"g","type":"nominal","scale":{"domain":["Normal BMI","High BMI"],"range":["#d4d4d4","#d1e6f7"]},"legend":null}}},
   {"data":{"name":"apts"},"transform":[{"filter":"datum.p=='FBG'"},{"calculate":"floor(datum.v/0.35)","as":"b"},{"window":[{"op":"row_number","as":"r"}],"groupby":["g","b"]},{"calculate":"(datum.r%2==0?1:-1)*floor(datum.r/2)","as":"o"}],"mark":{"type":"circle","size":16,"opacity":1},"encoding":{"x":{"field":"g","type":"nominal","sort":["Normal BMI","High BMI"]},"xOffset":{"field":"o","type":"quantitative","scale":{"domain":[-3,3]}},"y":{"field":"v","type":"quantitative"},"color":{"field":"g","type":"nominal","scale":{"domain":["Normal BMI","High BMI"],"range":["#000000","#86aad9"]},"legend":null}}},
   {"data":{"name":"asum"},"transform":[{"filter":"datum.p=='FBG'"}],"mark":{"type":"rule","color":"#000","strokeWidth":1.2},"encoding":{"x":{"field":"g","type":"nominal","sort":["Normal BMI","High BMI"]},"y":{"field":"lo","type":"quantitative"},"y2":{"field":"hi"}}},
   {"data":{"name":"asum"},"transform":[{"filter":"datum.p=='FBG'"},{"fold":["lo","hi"],"as":["k","e"]}],"mark":{"type":"tick","color":"#000","size":7,"thickness":1.2},"encoding":{"x":{"field":"g","type":"nominal","sort":["Normal BMI","High BMI"]},"y":{"field":"e","type":"quantitative"}}},
   {"data":{"name":"asum"},"transform":[{"filter":"datum.p=='FBG'"}],"mark":{"type":"tick","color":"#000","size":12,"thickness":1.2},"encoding":{"x":{"field":"g","type":"nominal","sort":["Normal BMI","High BMI"]},"y":{"field":"m","type":"quantitative"}}},
   {"data":{"name":"abr"},"transform":[{"filter":"datum.p=='FBG'"}],"mark":{"type":"rule","color":"#333","strokeWidth":1},"encoding":{"x":{"datum":"Normal BMI","type":"nominal"},"x2":{"datum":"High BMI"},"y":{"field":"y","type":"quantitative"}}},
   {"data":{"name":"abr"},"transform":[{"filter":"datum.p=='FBG'"}],"mark":{"type":"text","dx":16,"dy":-1,"baseline":"bottom","fontSize":8,"color":"#333"},"encoding":{"x":{"datum":"Normal BMI","type":"nominal"},"y":{"field":"y","type":"quantitative"},"text":{"field":"s"}}}]},
 {"width":74,"height":114,
  "layer":[
   {"data":{"name":"asum"},"transform":[{"filter":"datum.p=='TC'"}],"mark":"bar","encoding":{"x":{"field":"g","type":"nominal","sort":["Normal BMI","High BMI"],"scale":{"paddingInner":0.3,"paddingOuter":0.25},"axis":{"title":null,"labelAngle":-40}},"y":{"field":"m","type":"quantitative","scale":{"domain":[0,8],"nice":false},"axis":{"title":"TC (mmol/L)","values":[0,2,4,6,8]}},"fill":{"field":"g","type":"nominal","scale":{"domain":["Normal BMI","High BMI"],"range":["#d4d4d4","#d1e6f7"]},"legend":null}}},
   {"data":{"name":"apts"},"transform":[{"filter":"datum.p=='TC'"},{"calculate":"floor(datum.v/0.2)","as":"b"},{"window":[{"op":"row_number","as":"r"}],"groupby":["g","b"]},{"calculate":"(datum.r%2==0?1:-1)*floor(datum.r/2)","as":"o"}],"mark":{"type":"circle","size":16,"opacity":1},"encoding":{"x":{"field":"g","type":"nominal","sort":["Normal BMI","High BMI"]},"xOffset":{"field":"o","type":"quantitative","scale":{"domain":[-3,3]}},"y":{"field":"v","type":"quantitative"},"color":{"field":"g","type":"nominal","scale":{"domain":["Normal BMI","High BMI"],"range":["#000000","#86aad9"]},"legend":null}}},
   {"data":{"name":"asum"},"transform":[{"filter":"datum.p=='TC'"}],"mark":{"type":"rule","color":"#000","strokeWidth":1.2},"encoding":{"x":{"field":"g","type":"nominal","sort":["Normal BMI","High BMI"]},"y":{"field":"lo","type":"quantitative"},"y2":{"field":"hi"}}},
   {"data":{"name":"asum"},"transform":[{"filter":"datum.p=='TC'"},{"fold":["lo","hi"],"as":["k","e"]}],"mark":{"type":"tick","color":"#000","size":7,"thickness":1.2},"encoding":{"x":{"field":"g","type":"nominal","sort":["Normal BMI","High BMI"]},"y":{"field":"e","type":"quantitative"}}},
   {"data":{"name":"asum"},"transform":[{"filter":"datum.p=='TC'"}],"mark":{"type":"tick","color":"#000","size":12,"thickness":1.2},"encoding":{"x":{"field":"g","type":"nominal","sort":["Normal BMI","High BMI"]},"y":{"field":"m","type":"quantitative"}}},
   {"data":{"name":"abr"},"transform":[{"filter":"datum.p=='TC'"}],"mark":{"type":"rule","color":"#333","strokeWidth":1},"encoding":{"x":{"datum":"Normal BMI","type":"nominal"},"x2":{"datum":"High BMI"},"y":{"field":"y","type":"quantitative"}}},
   {"data":{"name":"abr"},"transform":[{"filter":"datum.p=='TC'"}],"mark":{"type":"text","dx":16,"dy":-1,"baseline":"bottom","fontSize":8,"color":"#333"},"encoding":{"x":{"datum":"Normal BMI","type":"nominal"},"y":{"field":"y","type":"quantitative"},"text":{"field":"s"}}}]},
 {"width":74,"height":114,
  "layer":[
   {"data":{"name":"asum"},"transform":[{"filter":"datum.p=='TG'"}],"mark":"bar","encoding":{"x":{"field":"g","type":"nominal","sort":["Normal BMI","High BMI"],"scale":{"paddingInner":0.3,"paddingOuter":0.25},"axis":{"title":null,"labelAngle":-40}},"y":{"field":"m","type":"quantitative","scale":{"domain":[0,4],"nice":false},"axis":{"title":"TG (mmol/L)","values":[0,1,2,3,4]}},"fill":{"field":"g","type":"nominal","scale":{"domain":["Normal BMI","High BMI"],"range":["#d4d4d4","#d1e6f7"]},"legend":null}}},
   {"data":{"name":"apts"},"transform":[{"filter":"datum.p=='TG'"},{"calculate":"floor(datum.v/0.1)","as":"b"},{"window":[{"op":"row_number","as":"r"}],"groupby":["g","b"]},{"calculate":"(datum.r%2==0?1:-1)*floor(datum.r/2)","as":"o"}],"mark":{"type":"circle","size":16,"opacity":1},"encoding":{"x":{"field":"g","type":"nominal","sort":["Normal BMI","High BMI"]},"xOffset":{"field":"o","type":"quantitative","scale":{"domain":[-3,3]}},"y":{"field":"v","type":"quantitative"},"color":{"field":"g","type":"nominal","scale":{"domain":["Normal BMI","High BMI"],"range":["#000000","#86aad9"]},"legend":null}}},
   {"data":{"name":"asum"},"transform":[{"filter":"datum.p=='TG'"}],"mark":{"type":"rule","color":"#000","strokeWidth":1.2},"encoding":{"x":{"field":"g","type":"nominal","sort":["Normal BMI","High BMI"]},"y":{"field":"lo","type":"quantitative"},"y2":{"field":"hi"}}},
   {"data":{"name":"asum"},"transform":[{"filter":"datum.p=='TG'"},{"fold":["lo","hi"],"as":["k","e"]}],"mark":{"type":"tick","color":"#000","size":7,"thickness":1.2},"encoding":{"x":{"field":"g","type":"nominal","sort":["Normal BMI","High BMI"]},"y":{"field":"e","type":"quantitative"}}},
   {"data":{"name":"asum"},"transform":[{"filter":"datum.p=='TG'"}],"mark":{"type":"tick","color":"#000","size":12,"thickness":1.2},"encoding":{"x":{"field":"g","type":"nominal","sort":["Normal BMI","High BMI"]},"y":{"field":"m","type":"quantitative"}}},
   {"data":{"name":"abr"},"transform":[{"filter":"datum.p=='TG'"}],"mark":{"type":"rule","color":"#333","strokeWidth":1},"encoding":{"x":{"datum":"Normal BMI","type":"nominal"},"x2":{"datum":"High BMI"},"y":{"field":"y","type":"quantitative"}}},
   {"data":{"name":"abr"},"transform":[{"filter":"datum.p=='TG'"}],"mark":{"type":"text","dx":16,"dy":-1,"baseline":"bottom","fontSize":8,"color":"#333"},"encoding":{"x":{"datum":"Normal BMI","type":"nominal"},"y":{"field":"y","type":"quantitative"},"text":{"field":"s"}}}]},
 {"width":74,"height":114,
  "layer":[
   {"data":{"name":"asum"},"transform":[{"filter":"datum.p=='HDL'"}],"mark":"bar","encoding":{"x":{"field":"g","type":"nominal","sort":["Normal BMI","High BMI"],"scale":{"paddingInner":0.3,"paddingOuter":0.25},"axis":{"title":null,"labelAngle":-40}},"y":{"field":"m","type":"quantitative","scale":{"domain":[0,3],"nice":false},"axis":{"title":"HDL (mmol/L)","values":[0,1,2,3]}},"fill":{"field":"g","type":"nominal","scale":{"domain":["Normal BMI","High BMI"],"range":["#d4d4d4","#d1e6f7"]},"legend":null}}},
   {"data":{"name":"apts"},"transform":[{"filter":"datum.p=='HDL'"},{"calculate":"floor(datum.v/0.08)","as":"b"},{"window":[{"op":"row_number","as":"r"}],"groupby":["g","b"]},{"calculate":"(datum.r%2==0?1:-1)*floor(datum.r/2)","as":"o"}],"mark":{"type":"circle","size":16,"opacity":1},"encoding":{"x":{"field":"g","type":"nominal","sort":["Normal BMI","High BMI"]},"xOffset":{"field":"o","type":"quantitative","scale":{"domain":[-3,3]}},"y":{"field":"v","type":"quantitative"},"color":{"field":"g","type":"nominal","scale":{"domain":["Normal BMI","High BMI"],"range":["#000000","#86aad9"]},"legend":null}}},
   {"data":{"name":"asum"},"transform":[{"filter":"datum.p=='HDL'"}],"mark":{"type":"rule","color":"#000","strokeWidth":1.2},"encoding":{"x":{"field":"g","type":"nominal","sort":["Normal BMI","High BMI"]},"y":{"field":"lo","type":"quantitative"},"y2":{"field":"hi"}}},
   {"data":{"name":"asum"},"transform":[{"filter":"datum.p=='HDL'"},{"fold":["lo","hi"],"as":["k","e"]}],"mark":{"type":"tick","color":"#000","size":7,"thickness":1.2},"encoding":{"x":{"field":"g","type":"nominal","sort":["Normal BMI","High BMI"]},"y":{"field":"e","type":"quantitative"}}},
   {"data":{"name":"asum"},"transform":[{"filter":"datum.p=='HDL'"}],"mark":{"type":"tick","color":"#000","size":12,"thickness":1.2},"encoding":{"x":{"field":"g","type":"nominal","sort":["Normal BMI","High BMI"]},"y":{"field":"m","type":"quantitative"}}},
   {"data":{"name":"abr"},"transform":[{"filter":"datum.p=='HDL'"}],"mark":{"type":"rule","color":"#333","strokeWidth":1},"encoding":{"x":{"datum":"Normal BMI","type":"nominal"},"x2":{"datum":"High BMI"},"y":{"field":"y","type":"quantitative"}}},
   {"data":{"name":"abr"},"transform":[{"filter":"datum.p=='HDL'"}],"mark":{"type":"text","dx":16,"dy":-1,"baseline":"bottom","fontSize":8,"color":"#333"},"encoding":{"x":{"datum":"Normal BMI","type":"nominal"},"y":{"field":"y","type":"quantitative"},"text":{"field":"s"}}}]},
 {"width":74,"height":114,
  "layer":[
   {"data":{"name":"asum"},"transform":[{"filter":"datum.p=='LDL'"}],"mark":"bar","encoding":{"x":{"field":"g","type":"nominal","sort":["Normal BMI","High BMI"],"scale":{"paddingInner":0.3,"paddingOuter":0.25},"axis":{"title":null,"labelAngle":-40}},"y":{"field":"m","type":"quantitative","scale":{"domain":[0,8],"nice":false},"axis":{"title":"LDL (mmol/L)","values":[0,2,4,6,8]}},"fill":{"field":"g","type":"nominal","scale":{"domain":["Normal BMI","High BMI"],"range":["#d4d4d4","#d1e6f7"]},"legend":null}}},
   {"data":{"name":"apts"},"transform":[{"filter":"datum.p=='LDL'"},{"calculate":"floor(datum.v/0.2)","as":"b"},{"window":[{"op":"row_number","as":"r"}],"groupby":["g","b"]},{"calculate":"(datum.r%2==0?1:-1)*floor(datum.r/2)","as":"o"}],"mark":{"type":"circle","size":16,"opacity":1},"encoding":{"x":{"field":"g","type":"nominal","sort":["Normal BMI","High BMI"]},"xOffset":{"field":"o","type":"quantitative","scale":{"domain":[-3,3]}},"y":{"field":"v","type":"quantitative"},"color":{"field":"g","type":"nominal","scale":{"domain":["Normal BMI","High BMI"],"range":["#000000","#86aad9"]},"legend":null}}},
   {"data":{"name":"asum"},"transform":[{"filter":"datum.p=='LDL'"}],"mark":{"type":"rule","color":"#000","strokeWidth":1.2},"encoding":{"x":{"field":"g","type":"nominal","sort":["Normal BMI","High BMI"]},"y":{"field":"lo","type":"quantitative"},"y2":{"field":"hi"}}},
   {"data":{"name":"asum"},"transform":[{"filter":"datum.p=='LDL'"},{"fold":["lo","hi"],"as":["k","e"]}],"mark":{"type":"tick","color":"#000","size":7,"thickness":1.2},"encoding":{"x":{"field":"g","type":"nominal","sort":["Normal BMI","High BMI"]},"y":{"field":"e","type":"quantitative"}}},
   {"data":{"name":"asum"},"transform":[{"filter":"datum.p=='LDL'"}],"mark":{"type":"tick","color":"#000","size":12,"thickness":1.2},"encoding":{"x":{"field":"g","type":"nominal","sort":["Normal BMI","High BMI"]},"y":{"field":"m","type":"quantitative"}}},
   {"data":{"name":"abr"},"transform":[{"filter":"datum.p=='LDL'"}],"mark":{"type":"rule","color":"#333","strokeWidth":1},"encoding":{"x":{"datum":"Normal BMI","type":"nominal"},"x2":{"datum":"High BMI"},"y":{"field":"y","type":"quantitative"}}},
   {"data":{"name":"abr"},"transform":[{"filter":"datum.p=='LDL'"}],"mark":{"type":"text","dx":16,"dy":-1,"baseline":"bottom","fontSize":8,"color":"#333"},"encoding":{"x":{"datum":"Normal BMI","type":"nominal"},"y":{"field":"y","type":"quantitative"},"text":{"field":"s"}}}]}
 ],"spacing":84,"bounds":"flush",
 "resolve":{"scale":{"color":"independent","fill":"independent","xOffset":"independent"},"legend":{"color":"independent","fill":"independent"}}},
{"vconcat":[
 {"hconcat":[
  {"width":186,"height":179,"title":{"text":"B","anchor":"start","frame":"group","dx":-31,"offset":5,"fontSize":15},
   "layer":[
    {"data":{"name":"ell"},"transform":[{"filter":"datum.g=='High-BMI'"}],"mark":{"type":"line","fill":"#c6e3f5","stroke":null,"interpolate":"cardinal-closed"},"encoding":{"x":{"field":"x","type":"quantitative","scale":{"domain":[-4.36,4],"nice":false,"zero":false},"axis":{"values":[-4,-2,0,2,4],"grid":true,"gridDash":[2,2],"gridColor":"#c8c8c8","title":"T score[1] (12.8%)","zindex":1}},"y":{"field":"y","type":"quantitative","scale":{"domain":[-6.5,6],"range":[179,26],"nice":false,"zero":false},"axis":{"values":[-6,-4,-2,0,2,4,6],"grid":true,"gridDash":[2,2],"gridColor":"#c8c8c8","title":"Orthogonal T score[1] (39.0%)","zindex":1}},"order":{"field":"i","type":"quantitative"}}},
    {"data":{"name":"ell"},"transform":[{"filter":"datum.g=='Normal-BMI'"}],"mark":{"type":"line","fill":"#c9c9c9","stroke":null,"interpolate":"cardinal-closed"},"encoding":{"x":{"field":"x","type":"quantitative"},"y":{"field":"y","type":"quantitative"},"order":{"field":"i","type":"quantitative"}}},
    {"data":{"name":"bpts"},"mark":{"type":"point","filled":true,"size":26,"stroke":"#000","strokeWidth":0.8,"opacity":1},"encoding":{"x":{"field":"x","type":"quantitative"},"y":{"field":"y","type":"quantitative"},"fill":{"field":"g","type":"nominal","scale":{"domain":["Normal-BMI","High-BMI"],"range":["#7d7d7d","#4f9bd4"]},"legend":{"orient":"none","legendX":32,"legendY":3,"direction":"horizontal","title":null,"symbolType":"circle","symbolSize":22,"symbolStrokeColor":"#000","symbolStrokeWidth":0.8,"labelFontSize":10,"columnPadding":18,"labelOffset":3}}}}]},
  {"width":105,"height":181,"title":{"text":"C","anchor":"start","frame":"group","dx":-43,"offset":5,"fontSize":15},
   "layer":[
    {"data":{"values":[{}]},"mark":{"type":"rule","color":"#e8322b","strokeDash":[4,3],"strokeWidth":1.5},"encoding":{"x":{"datum":1,"type":"quantitative"}}},
    {"data":{"name":"vip"},"mark":{"type":"circle","size":14,"color":"#000","opacity":1},"encoding":{"x":{"field":"vip","type":"quantitative","scale":{"domain":[0,2.04],"nice":false},"axis":{"values":[0,0.5,1,1.5,2],"labelExpr":"datum.value==0?'0':format(datum.value,'.1f')","title":"VIP score"}},"y":{"field":"ba","type":"nominal","sort":["LCA","UDCA","TCA","TCDCA","CDCA","TLCA","DCA","GCA","GLCA","TUDCA","TDCA","CA","GUDCA","GDCA","GCDCA"],"scale":{"type":"point","padding":0.92},"axis":{"title":null,"labelFontSize":10.5}}}},
    {"data":{"values":[{}]},"mark":{"type":"text","text":"VIP = 1","color":"#e8322b","align":"left","dx":4,"fontSize":12},"encoding":{"x":{"datum":1,"type":"quantitative"},"y":{"datum":"GUDCA","type":"nominal"}}}]},
  {"width":108,"height":181,"title":{"text":"D","anchor":"start","frame":"group","dx":-39,"offset":-1,"fontSize":15},"data":{"name":"dn"},"transform":[{"filter":"datum.grp=='Normal-BMI'"}],
   "layer":[
    {"mark":{"type":"arc","innerRadius":31,"outerRadius":61,"stroke":"#000","strokeWidth":1.2},"encoding":{"theta":{"field":"pct","type":"quantitative","stack":true},"order":{"field":"k","type":"quantitative"},"fill":{"field":"cat","type":"nominal","scale":{"domain":["Conjugated 12-OH BAs","Unconjugated 12-OH BAs","Conjugated non-12-OH BAs","Unconjugated non-12-OH BAs"],"range":["#a29d99","#d6d6d6","#4e9ff5","#c9dff7"]},"legend":{"orient":"none","legendX":-10,"legendY":170,"columns":2,"direction":"horizontal","title":null,"symbolType":"square","symbolSize":100,"symbolStrokeColor":"#333","symbolStrokeWidth":1,"labelFontSize":10.5,"columnPadding":27,"rowPadding":6,"labelOffset":6}}}},
    {"transform":[{"stack":"pct","groupby":[],"sort":[{"field":"k"}],"as":["t0","t1"]},{"calculate":"(datum.t0+datum.t1)/2","as":"tm"},{"filter":"datum.k==1"}],"mark":{"type":"text","radius":77,"fontSize":10.5,"color":"#333"},"encoding":{"theta":{"field":"tm","type":"quantitative"},"text":{"field":"lab"}}},
    {"transform":[{"stack":"pct","groupby":[],"sort":[{"field":"k"}],"as":["t0","t1"]},{"calculate":"(datum.t0+datum.t1)/2","as":"tm"},{"filter":"datum.k==2"}],"mark":{"type":"text","radius":77,"fontSize":10.5,"color":"#333","dx":-3,"dy":-15},"encoding":{"theta":{"field":"tm","type":"quantitative"},"text":{"field":"lab"}}},
    {"transform":[{"stack":"pct","groupby":[],"sort":[{"field":"k"}],"as":["t0","t1"]},{"calculate":"(datum.t0+datum.t1)/2","as":"tm"},{"filter":"datum.k==3"}],"mark":{"type":"text","radius":77,"fontSize":10.5,"color":"#333","dx":-44,"dy":-22},"encoding":{"theta":{"field":"tm","type":"quantitative"},"text":{"field":"lab"}}},
    {"transform":[{"stack":"pct","groupby":[],"sort":[{"field":"k"}],"as":["t0","t1"]},{"calculate":"(datum.t0+datum.t1)/2","as":"tm"},{"filter":"datum.k==4"}],"mark":{"type":"text","radius":77,"fontSize":10.5,"color":"#333","dy":6},"encoding":{"theta":{"field":"tm","type":"quantitative"},"text":{"field":"lab"}}},
    {"data":{"values":[{}]},"mark":{"type":"text","text":"Normal-BMI","radius":91,"fontSize":11,"color":"#222"},"encoding":{"theta":{"datum":0,"type":"quantitative"}}}]},
  {"width":120,"height":181,"data":{"name":"dn"},"transform":[{"filter":"datum.grp=='High-BMI'"}],
   "layer":[
    {"mark":{"type":"arc","innerRadius":31,"outerRadius":61,"stroke":"#000","strokeWidth":1.2},"encoding":{"theta":{"field":"pct","type":"quantitative","stack":true},"order":{"field":"k","type":"quantitative"},"fill":{"field":"cat","type":"nominal","scale":{"domain":["Conjugated 12-OH BAs","Unconjugated 12-OH BAs","Conjugated non-12-OH BAs","Unconjugated non-12-OH BAs"],"range":["#a29d99","#d6d6d6","#4e9ff5","#c9dff7"]},"legend":null}}},
    {"transform":[{"stack":"pct","groupby":[],"sort":[{"field":"k"}],"as":["t0","t1"]},{"calculate":"(datum.t0+datum.t1)/2","as":"tm"},{"filter":"datum.k==1"}],"mark":{"type":"text","radius":77,"fontSize":10.5,"color":"#333"},"encoding":{"theta":{"field":"tm","type":"quantitative"},"text":{"field":"lab"}}},
    {"transform":[{"stack":"pct","groupby":[],"sort":[{"field":"k"}],"as":["t0","t1"]},{"calculate":"(datum.t0+datum.t1)/2","as":"tm"},{"filter":"datum.k==2"}],"mark":{"type":"text","radius":77,"fontSize":10.5,"color":"#333","dy":8},"encoding":{"theta":{"field":"tm","type":"quantitative"},"text":{"field":"lab"}}},
    {"transform":[{"stack":"pct","groupby":[],"sort":[{"field":"k"}],"as":["t0","t1"]},{"calculate":"(datum.t0+datum.t1)/2","as":"tm"},{"filter":"datum.k==3"}],"mark":{"type":"text","radius":77,"fontSize":10.5,"color":"#333","dx":-12,"dy":-14},"encoding":{"theta":{"field":"tm","type":"quantitative"},"text":{"field":"lab"}}},
    {"transform":[{"stack":"pct","groupby":[],"sort":[{"field":"k"}],"as":["t0","t1"]},{"calculate":"(datum.t0+datum.t1)/2","as":"tm"},{"filter":"datum.k==4"}],"mark":{"type":"text","radius":77,"fontSize":10.5,"color":"#333","dx":-16},"encoding":{"theta":{"field":"tm","type":"quantitative"},"text":{"field":"lab"}}},
    {"data":{"values":[{}]},"mark":{"type":"text","text":"High-BMI","radius":91,"fontSize":11,"color":"#222"},"encoding":{"theta":{"datum":0,"type":"quantitative"}}}]}
  ],"spacing":67,"bounds":"flush",
  "resolve":{"scale":{"color":"independent","fill":"independent","xOffset":"independent"},"legend":{"color":"independent","fill":"independent"}}},
 {"hconcat":[
  {"width":349,"height":110,"title":{"text":"E","anchor":"start","frame":"group","dx":-30,"offset":-5,"fontSize":15},"data":{"name":"e"},
   "layer":[
    {"mark":"bar","encoding":{"x":{"field":"ba","type":"nominal","sort":["CA","CDCA","DCA","LCA","GCA","GCDCA","GDCA","GLCA","TCA","TCDCA","TDCA","TLCA","UDCA","TUDCA","GUDCA"],"scale":{"paddingInner":0.3,"paddingOuter":0.16},"axis":{"title":null,"labelAngle":-35,"labelFontSize":10}},"xOffset":{"field":"g","type":"nominal","sort":["Normal-BMI","High-BMI"],"scale":{"paddingInner":0.15}},"y":{"field":"m","type":"quantitative","scale":{"domain":[0,106,170,541,541.5,4000],"range":[110,75,69,36,30,0],"nice":false,"zero":false},"axis":{"values":[0,40,80,100,200,300,400,500,1000,2000,3000,4000],"tickCount":12,"labelOverlap":false,"format":"d","title":"Serum BAs (nmol/g)","titleFontSize":10,"labelFontSize":8,"labelPadding":1,"titlePadding":0,"tickSize":2}},"fill":{"field":"g","type":"nominal","scale":{"domain":["Normal-BMI","High-BMI"],"range":["#d4d4d4","#d1e6f7"]},"legend":{"orient":"none","legendX":118,"legendY":-6,"direction":"horizontal","title":null,"symbolType":"M-1,-0.5L1,-0.5L1,0.5L-1,0.5Z","symbolSize":180,"symbolStrokeWidth":0,"labelFontSize":10,"columnPadding":12,"labelOffset":4}}}},
    {"mark":{"type":"rule","color":"#000","strokeWidth":1.5},"encoding":{"x":{"field":"ba","type":"nominal","sort":["CA","CDCA","DCA","LCA","GCA","GCDCA","GDCA","GLCA","TCA","TCDCA","TDCA","TLCA","UDCA","TUDCA","GUDCA"]},"xOffset":{"field":"g","type":"nominal","sort":["Normal-BMI","High-BMI"]},"y":{"field":"m","type":"quantitative"},"y2":{"field":"hi"}}},
    {"mark":{"type":"tick","color":"#000","size":5,"thickness":2},"encoding":{"x":{"field":"ba","type":"nominal","sort":["CA","CDCA","DCA","LCA","GCA","GCDCA","GDCA","GLCA","TCA","TCDCA","TDCA","TLCA","UDCA","TUDCA","GUDCA"]},"xOffset":{"field":"g","type":"nominal","sort":["Normal-BMI","High-BMI"]},"y":{"field":"hi","type":"quantitative"}}},
    {"data":{"values":[{}]},"mark":{"type":"rect","color":"#ffffff"},"encoding":{"y":{"datum":106,"type":"quantitative"},"y2":{"datum":170}}},
    {"data":{"values":[{}]},"mark":{"type":"rect","color":"#ffffff"},"encoding":{"y":{"datum":541,"type":"quantitative"},"y2":{"datum":541.5}}},
    {"data":{"name":"ebr"},"mark":{"type":"tick","color":"#333","size":11,"thickness":1},"encoding":{"x":{"field":"ba","type":"nominal","sort":["CA","CDCA","DCA","LCA","GCA","GCDCA","GDCA","GLCA","TCA","TCDCA","TDCA","TLCA","UDCA","TUDCA","GUDCA"]},"y":{"field":"y","type":"quantitative"}}},
    {"data":{"name":"ebr"},"mark":{"type":"text","color":"#333","fontSize":8,"baseline":"bottom","dy":-1},"encoding":{"x":{"field":"ba","type":"nominal","sort":["CA","CDCA","DCA","LCA","GCA","GCDCA","GDCA","GLCA","TCA","TCDCA","TDCA","TLCA","UDCA","TUDCA","GUDCA"]},"y":{"field":"y","type":"quantitative"},"text":{"field":"s"}}}]},
  {"width":74,"height":110,"title":{"text":"F","anchor":"start","frame":"group","dx":-14,"offset":6,"fontSize":15},
   "layer":[
    {"data":{"name":"fsum"},"transform":[{"filter":"datum.p=='F1'"}],"mark":"bar","encoding":{"x":{"field":"g","type":"nominal","sort":["Normal-BMI","High-BMI"],"scale":{"paddingInner":0.267,"paddingOuter":0.433,"align":0.88},"axis":{"title":null,"labelAngle":-35,"labelFontSize":8.5}},"y":{"field":"m","type":"quantitative","scale":{"domain":[0,6],"range":[110,14],"nice":false},"axis":{"title":"Total BAs (nmol/g, ×10⁴)","values":[0,2,4,6],"titleFontSize":10}},"fill":{"field":"g","type":"nominal","scale":{"domain":["Normal-BMI","High-BMI"],"range":["#d4d4d4","#d1e6f7"]},"legend":null}}},
    {"data":{"name":"fpts"},"transform":[{"filter":"datum.p=='F1'"},{"calculate":"floor(datum.v/0.12)","as":"b"},{"window":[{"op":"row_number","as":"r"}],"groupby":["g","b"]},{"calculate":"(datum.r%2==0?1:-1)*floor(datum.r/2)","as":"o"}],"mark":{"type":"circle","size":16,"opacity":1},"encoding":{"x":{"field":"g","type":"nominal","sort":["Normal-BMI","High-BMI"]},"xOffset":{"field":"o","type":"quantitative","scale":{"domain":[-3,3]}},"y":{"field":"v","type":"quantitative"},"color":{"field":"g","type":"nominal","scale":{"domain":["Normal-BMI","High-BMI"],"range":["#000000","#86aad9"]},"legend":null}}},
    {"data":{"name":"fsum"},"transform":[{"filter":"datum.p=='F1'"}],"mark":{"type":"rule","color":"#000","strokeWidth":1.2},"encoding":{"x":{"field":"g","type":"nominal","sort":["Normal-BMI","High-BMI"]},"y":{"field":"lo","type":"quantitative"},"y2":{"field":"hi"}}},
    {"data":{"name":"fsum"},"transform":[{"filter":"datum.p=='F1'"},{"fold":["lo","hi"],"as":["k","e"]}],"mark":{"type":"tick","color":"#000","size":8,"thickness":1.2},"encoding":{"x":{"field":"g","type":"nominal","sort":["Normal-BMI","High-BMI"]},"y":{"field":"e","type":"quantitative"}}},
    {"data":{"name":"fsum"},"transform":[{"filter":"datum.p=='F1'"}],"mark":{"type":"tick","color":"#000","size":14,"thickness":1.2},"encoding":{"x":{"field":"g","type":"nominal","sort":["Normal-BMI","High-BMI"]},"y":{"field":"m","type":"quantitative"}}}]},
  {"width":80,"height":110,
   "layer":[
    {"data":{"name":"fsum"},"transform":[{"filter":"datum.p=='F2'"}],"mark":"bar","encoding":{"x":{"field":"g","type":"nominal","sort":["Normal-BMI","High-BMI"],"scale":{"paddingInner":0.21,"paddingOuter":0.158,"align":0.92},"axis":{"title":null,"labelAngle":-35,"labelFontSize":8.5}},"y":{"field":"m","type":"quantitative","scale":{"domain":[0,30],"range":[110,14],"nice":false},"axis":{"title":"Non-12-OH/12-OH BAs","values":[0,10,20,30],"titleFontSize":10}},"fill":{"field":"g","type":"nominal","scale":{"domain":["Normal-BMI","High-BMI"],"range":["#d4d4d4","#d1e6f7"]},"legend":null}}},
    {"data":{"name":"fpts"},"transform":[{"filter":"datum.p=='F2'"},{"calculate":"floor(datum.v/0.6)","as":"b"},{"window":[{"op":"row_number","as":"r"}],"groupby":["g","b"]},{"calculate":"(datum.r%2==0?1:-1)*floor(datum.r/2)","as":"o"}],"mark":{"type":"circle","size":16,"opacity":1},"encoding":{"x":{"field":"g","type":"nominal","sort":["Normal-BMI","High-BMI"]},"xOffset":{"field":"o","type":"quantitative","scale":{"domain":[-3,3]}},"y":{"field":"v","type":"quantitative"},"color":{"field":"g","type":"nominal","scale":{"domain":["Normal-BMI","High-BMI"],"range":["#000000","#86aad9"]},"legend":null}}},
    {"data":{"name":"fsum"},"transform":[{"filter":"datum.p=='F2'"}],"mark":{"type":"rule","color":"#000","strokeWidth":1.2},"encoding":{"x":{"field":"g","type":"nominal","sort":["Normal-BMI","High-BMI"]},"y":{"field":"lo","type":"quantitative"},"y2":{"field":"hi"}}},
    {"data":{"name":"fsum"},"transform":[{"filter":"datum.p=='F2'"},{"fold":["lo","hi"],"as":["k","e"]}],"mark":{"type":"tick","color":"#000","size":8,"thickness":1.2},"encoding":{"x":{"field":"g","type":"nominal","sort":["Normal-BMI","High-BMI"]},"y":{"field":"e","type":"quantitative"}}},
    {"data":{"name":"fsum"},"transform":[{"filter":"datum.p=='F2'"}],"mark":{"type":"tick","color":"#000","size":14,"thickness":1.2},"encoding":{"x":{"field":"g","type":"nominal","sort":["Normal-BMI","High-BMI"]},"y":{"field":"m","type":"quantitative"}}},
    {"data":{"name":"fbr"},"mark":{"type":"rule","color":"#333","strokeWidth":1},"encoding":{"x":{"datum":"Normal-BMI","type":"nominal"},"x2":{"datum":"High-BMI"},"y":{"field":"y","type":"quantitative"}}},
    {"data":{"name":"fbr"},"mark":{"type":"text","dx":19,"dy":-1,"baseline":"bottom","fontSize":8,"color":"#333"},"encoding":{"x":{"datum":"Normal-BMI","type":"nominal"},"y":{"field":"y","type":"quantitative"},"text":{"field":"s"}}}]},
  {"width":152,"height":110,"title":{"text":"G","anchor":"start","frame":"group","dx":-7,"offset":1,"fontSize":15},
   "layer":[
    {"data":{"name":"gpts"},"mark":{"type":"circle","size":24,"color":"#86aad9","opacity":0.95},"encoding":{"x":{"field":"x","type":"quantitative","scale":{"domain":[0,30],"range":[24,152],"nice":false},"axis":{"values":[0,10,20,30],"title":"PPP1R3G (ng/mL)"}},"y":{"field":"y","type":"quantitative","scale":{"domain":[0,20],"range":[110,10],"nice":false},"axis":{"values":[0,5,10,15,20],"title":"Non-12-OH BAs (nmol/g, ×10³)","titleFontSize":10,"offset":-24}}}},
    {"data":{"name":"gl"},"transform":[{"filter":"datum.s!='fit'"}],"mark":{"type":"line","color":"#333","strokeWidth":1,"strokeDash":[1.5,1.5],"interpolate":"monotone"},"encoding":{"x":{"field":"x","type":"quantitative"},"y":{"field":"y","type":"quantitative"},"detail":{"field":"s"}}},
    {"data":{"name":"gl"},"transform":[{"filter":"datum.s=='fit'"}],"mark":{"type":"line","color":"#e8322b","strokeWidth":1.6},"encoding":{"x":{"field":"x","type":"quantitative"},"y":{"field":"y","type":"quantitative"}}},
    {"data":{"name":"gt"},"mark":{"type":"text","align":"left","fontSize":10,"color":"#222"},"encoding":{"x":{"field":"x","type":"quantitative"},"y":{"field":"y","type":"quantitative"},"text":{"field":"t"}}}]}
  ],"spacing":32,"bounds":"flush",
  "resolve":{"scale":{"color":"independent","fill":"independent","xOffset":"independent"},"legend":{"color":"independent","fill":"independent"}}}
 ],"spacing":0,
 "resolve":{"scale":{"color":"independent","fill":"independent","xOffset":"independent"},"legend":{"color":"independent","fill":"independent"}}}
],
"spacing":-3,
"resolve":{"scale":{"color":"independent","fill":"independent","xOffset":"independent"},"legend":{"color":"independent","fill":"independent"}}
}
